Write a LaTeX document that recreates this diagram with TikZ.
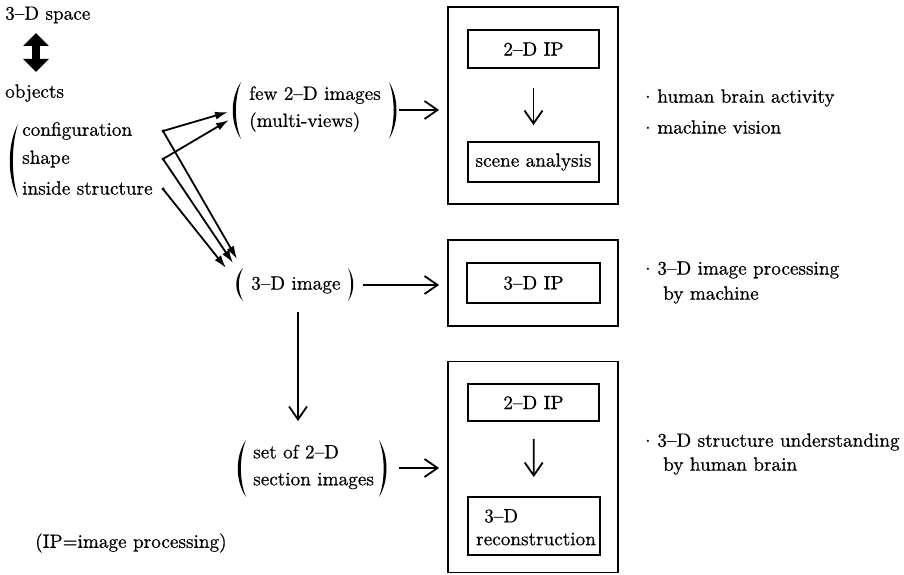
\documentclass[tikz,border=0pt]{standalone}
\usepackage{fontspec}
\setmainfont{lmroman10-regular.otf}[FakeBold=0.6]
\usetikzlibrary{arrows.meta}
\newcommand{\parenshape}[4]{%
  \pgfmathsetmacro\pya{#2+(#3-#2)*0.28}%
  \pgfmathsetmacro\pyb{#2+(#3-#2)*0.72}%
  \pgfmathsetmacro\pxa{#1+#4}%
  \pgfmathsetmacro\pxb{#1+#4*0.62}%
  \fill (#1,#2) .. controls (\pxa,\pya) and (\pxa,\pyb) .. (#1,#3) .. controls (\pxb,\pyb) and (\pxb,\pya) .. (#1,#2) -- cycle;}
\begin{document}
\begin{tikzpicture}[x=1pt,y=-1pt,
  every node/.style={font=\fontsize{19.2}{23}\selectfont},
  txt/.style={anchor=west, inner sep=0pt},
  obox/.style={draw, line width=1.8pt, inner sep=0pt, minimum width=170pt},
  ibox/.style={draw, line width=1.8pt, inner sep=0pt, minimum width=131pt, minimum height=38pt},
  barb/.style={line width=1.8pt, -{Straight Barb[length=13pt,width=18pt,line width=1.8pt]}},
  fan/.style={line width=1.8pt, -{Latex[length=13pt,width=8pt]}},
  dbl/.style={line width=8pt, {Triangle[length=13pt,width=25pt]}-{Triangle[length=13pt,width=25pt]}},
  dotn/.style={circle, fill, inner sep=0pt, minimum size=3.5pt}]
\useasboundingbox (0,0) rectangle (904,575);

% left column
\node[txt] (space) at (5,15) {3--D space};
\node[txt] (objects) at (5,93) {objects};
\coordinate (da) at (36,33);
\coordinate (db) at (36,72);
\draw[dbl] (da) -- (db);
\parenshape{18}{124}{198}{-11}
\node[txt] (conf) at (22,131) {configuration};
\node[txt] (shape) at (22,159) {shape};
\node[txt] (inside) at (22,188) {inside structure};
\node[dotn] (dc) at (163,131) {};
\node[dotn] (ds) at (163,159) {};
\node[dotn] (di) at (163,189) {};

% few 2-D images
\parenshape{241}{82}{139}{-11}
\node[txt, align=left] (few) at (249,109) {few 2--D images\\[4pt](multi-views)};
\parenshape{389}{82}{139}{10}
\coordinate (fA) at (228,112);
\coordinate (fB) at (229,120);
\coordinate (fR) at (399,110);

% 3-D image
\parenshape{243}{268}{301}{-9}
\node[txt] (img) at (251,285) {3--D image};
\parenshape{348}{268}{301}{7}
\coordinate (iA) at (237,259);
\coordinate (iB) at (233,263);
\coordinate (iC) at (226,268);
\coordinate (imgR) at (363,285);
\coordinate (imgB) at (298,312);

% set of 2-D section images
\parenshape{246}{440}{497}{-11}
\node[txt, align=left] (set) at (253,467) {set of 2--D\\[4pt]section images};
\parenshape{379}{440}{497}{10}
\coordinate (setT) at (298,421);
\coordinate (setR) at (399,468);

% fan arrows
\draw[fan] (dc.center) -- (fA);
\draw[fan] (ds.center) -- (fB);
\draw[fan] (dc.center) -- (iA);
\draw[fan] (ds.center) -- (iB);
\draw[fan] (di.center) -- (iC);

% box 1
\node[obox, minimum height=197pt] (b1) at (533,105.5) {};
\node[ibox] (ip1) at (533.5,49) {2--D IP};
\node[ibox, minimum height=40pt] (sa) at (533.5,162) {scene analysis};
\draw[barb, shorten <=19pt, shorten >=16pt] (ip1) -- (sa);

% box 2
\node[obox, minimum height=86pt] (b2) at (533,283) {};
\node[ibox, minimum width=133pt, minimum height=40pt] (ip3) at (533.5,283) {3--D IP};

% box 3
\node[obox, minimum height=211pt] (b3) at (533,467) {};
\node[ibox, minimum height=37pt] (ip2) at (533.5,402.5) {2--D IP};
\node[ibox, minimum width=132pt, minimum height=58pt] (rec) at (534,526) {};
\node[txt] (rec3d) at (484,516) {3--D};
\node[txt] (recon) at (476,539) {reconstruction};
\draw[barb, shorten <=17pt, shorten >=19pt] (ip2) -- (rec);

% connectors to boxes
\draw[barb, shorten >=8pt] (fR) -- (b1.west |- fR);
\draw[barb, shorten >=8pt] (imgR) -- (b2.west |- imgR);
\draw[barb, shorten >=8pt] (setR) -- (b3.west |- setR);
\draw[barb] (imgB) -- (setT);

% right notes
\node[txt] (n1) at (645,98) {$\cdot$\ human brain activity};
\node[txt] (n2) at (645,127) {$\cdot$\ machine vision};
\node[txt] (n3) at (645,270) {$\cdot$\ 3--D image processing};
\node[txt] (n3b) at (663,295) {by machine};
\node[txt] (n4) at (645,442) {$\cdot$\ 3--D structure understanding};
\node[txt] (n4b) at (663,466) {by human brain};

\node[txt] (note) at (35,543) {(IP=image processing)};
\end{tikzpicture}
\end{document}
